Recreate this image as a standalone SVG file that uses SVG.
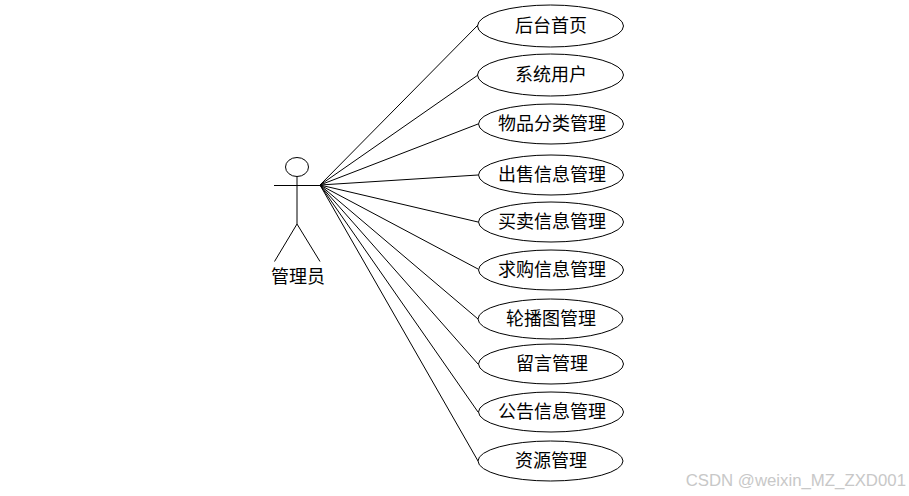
<svg xmlns="http://www.w3.org/2000/svg" width="909" height="496" viewBox="0 0 909 496">
<style>
.s{fill:none;stroke:#000;stroke-width:1}
.e{fill:#fff;stroke:#000;stroke-width:1}
.t{font-family:"Noto Sans CJK SC","Liberation Sans",sans-serif;font-size:18px;fill:#000;text-anchor:middle}
.w{font-family:"Liberation Sans",Arial,sans-serif;font-size:16.800px;fill:#c8c8c8;text-anchor:end}
</style>
<rect width="909" height="496" fill="#fff"/>
<g id="connectors" class="s">
<path d="M320 185L478 25"/>
<path d="M320 185L478 75"/>
<path d="M320 185L478 124"/>
<path d="M320 185L478 175"/>
<path d="M320 185L478 222"/>
<path d="M320 185L478 269"/>
<path d="M320 185L478 319"/>
<path d="M320 185L478 364"/>
<path d="M320 185L478 412"/>
<path d="M320 185L478 461"/>
</g>
<g id="actor">
<ellipse class="s" cx="297" cy="167" rx="11.500" ry="9.500"/>
<path class="s" d="M297 176.500V224M274 185.500H320M297 224L274.500 261.500M297 224L320 261.500"/>
<text class="t" x="298" y="283">管理员</text>
</g>
<g id="n1"><ellipse class="e" cx="550.500" cy="26" rx="73" ry="21"/><text class="t" x="551" y="32">后台首页</text></g>
<g id="n2"><ellipse class="e" cx="550.500" cy="75" rx="73" ry="21"/><text class="t" x="551" y="81">系统用户</text></g>
<g id="n3"><ellipse class="e" cx="551" cy="124" rx="72.500" ry="20"/><text class="t" x="552" y="130">物品分类管理</text></g>
<g id="n4"><ellipse class="e" cx="551" cy="175" rx="72.500" ry="20"/><text class="t" x="552" y="181">出售信息管理</text></g>
<g id="n5"><ellipse class="e" cx="551" cy="222" rx="72.500" ry="20"/><text class="t" x="552" y="228">买卖信息管理</text></g>
<g id="n6"><ellipse class="e" cx="551" cy="270" rx="72.500" ry="20"/><text class="t" x="552" y="276">求购信息管理</text></g>
<g id="n7"><ellipse class="e" cx="550.500" cy="319" rx="72.500" ry="20"/><text class="t" x="551" y="325">轮播图管理</text></g>
<g id="n8"><ellipse class="e" cx="551" cy="364" rx="72.500" ry="20"/><text class="t" x="552" y="370">留言管理</text></g>
<g id="n9"><ellipse class="e" cx="551" cy="412" rx="72.500" ry="20"/><text class="t" x="552" y="418">公告信息管理</text></g>
<g id="n10"><ellipse class="e" cx="550.500" cy="461" rx="72.500" ry="20"/><text class="t" x="551" y="467">资源管理</text></g>
<text class="w" x="906" y="486">CSDN @weixin_MZ_ZXD001</text>
</svg>
